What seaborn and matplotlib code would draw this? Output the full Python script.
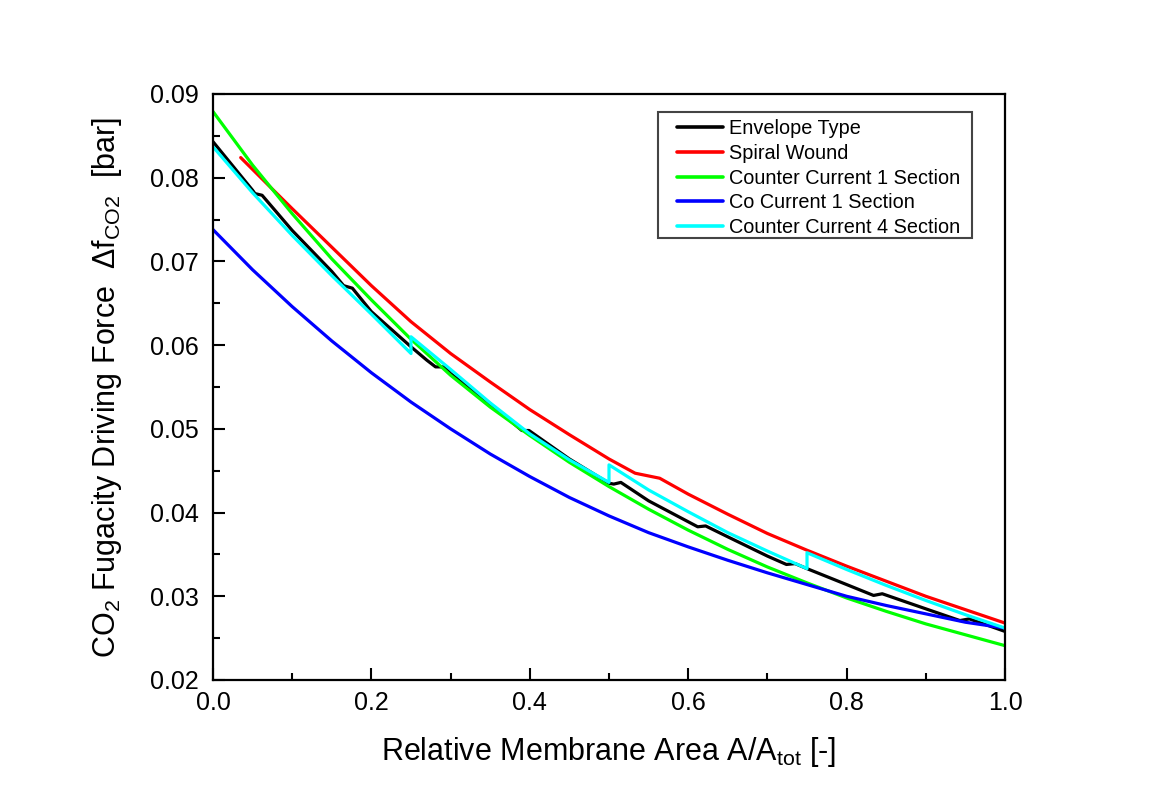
import numpy as np
import pandas as pd
import matplotlib
matplotlib.use("Agg")
import matplotlib.pyplot as plt
from matplotlib.patches import Rectangle
import seaborn as sns

# ---- data ---------------------------------------------------------------
envelope_x = [0.000, 0.050, 0.053, 0.062, 0.100, 0.150, 0.165, 0.176, 0.200,
              0.250, 0.270, 0.281, 0.292, 0.300, 0.350, 0.390, 0.399, 0.450,
              0.500, 0.506, 0.515, 0.550, 0.600, 0.612, 0.622, 0.650, 0.700,
              0.724, 0.735, 0.750, 0.800, 0.834, 0.845, 0.900, 0.943, 0.955,
              1.000]
envelope_y = [0.0843, 0.0785, 0.0781, 0.0779, 0.0737, 0.0688, 0.0671, 0.0668,
              0.0640, 0.0598, 0.0582, 0.0574, 0.0574, 0.0566, 0.0530, 0.0498,
              0.0498, 0.0464, 0.0435, 0.0434, 0.0436, 0.0414, 0.0389, 0.0383,
              0.0384, 0.0371, 0.0348, 0.0338, 0.0339, 0.0333, 0.0314, 0.0301,
              0.0303, 0.0285, 0.0271, 0.0273, 0.0258]

spiral_x = [0.035, 0.070, 0.100, 0.150, 0.200, 0.250, 0.300, 0.350, 0.400,
            0.450, 0.500, 0.533, 0.564, 0.600, 0.650, 0.700, 0.750, 0.800,
            0.850, 0.900, 0.950, 1.000]
spiral_y = [0.0824, 0.0791, 0.0763, 0.0717, 0.0671, 0.0628, 0.0590, 0.0556,
            0.0523, 0.0493, 0.0464, 0.0447, 0.0441, 0.0422, 0.0398, 0.0375,
            0.0355, 0.0336, 0.0318, 0.0300, 0.0284, 0.0268]

counter1_x = [0.00, 0.05, 0.10, 0.15, 0.20, 0.25, 0.30, 0.35, 0.40, 0.45, 0.50,
              0.55, 0.60, 0.65, 0.70, 0.75, 0.80, 0.85, 0.90, 0.95, 1.00]
counter1_y = [0.0879, 0.0815, 0.0757, 0.0703, 0.0654, 0.0607, 0.0564, 0.0526,
              0.0492, 0.0460, 0.0431, 0.0404, 0.0379, 0.0356, 0.0335, 0.0316,
              0.0298, 0.0282, 0.0267, 0.0254, 0.0241]

cocurrent_x = [0.00, 0.05, 0.10, 0.15, 0.20, 0.25, 0.30, 0.35, 0.40, 0.45, 0.50,
               0.55, 0.60, 0.65, 0.70, 0.75, 0.80, 0.85, 0.90, 0.95, 1.00]
cocurrent_y = [0.0738, 0.0690, 0.0646, 0.0605, 0.0567, 0.0532, 0.0500, 0.0470,
               0.0443, 0.0418, 0.0396, 0.0376, 0.0359, 0.0343, 0.0328, 0.0314,
               0.0300, 0.0289, 0.0279, 0.0269, 0.0262]

counter4_x = [0.00, 0.05, 0.10, 0.15, 0.20, 0.25,
              0.25, 0.30, 0.35, 0.40, 0.45, 0.50,
              0.50, 0.55, 0.60, 0.65, 0.70, 0.75,
              0.75, 0.80, 0.85, 0.90, 0.95, 1.00]
counter4_y = [0.0837, 0.0782, 0.0731, 0.0683, 0.0637, 0.0590,
              0.0610, 0.0571, 0.0531, 0.0494, 0.0463, 0.0436,
              0.0457, 0.0427, 0.0401, 0.0376, 0.0354, 0.0333,
              0.0352, 0.0332, 0.0313, 0.0295, 0.0278, 0.0262]

series = [
    ("Envelope Type", envelope_x, envelope_y, "#000000"),
    ("Spiral Wound", spiral_x, spiral_y, "#FF0000"),
    ("Counter Current 1 Section", counter1_x, counter1_y, "#00FF00"),
    ("Co Current 1 Section", cocurrent_x, cocurrent_y, "#0000FF"),
    ("Counter Current 4 Section", counter4_x, counter4_y, "#00FFFF"),
]

x_ticks = [0.0, 0.2, 0.4, 0.6, 0.8, 1.0]
y_ticks = [0.02, 0.03, 0.04, 0.05, 0.06, 0.07, 0.08, 0.09]

# ---- style --------------------------------------------------------------
sns.set_theme(style="white")
plt.rcParams["font.family"] = ["Liberation Sans", "DejaVu Sans"]
plt.rcParams["mathtext.fontset"] = "custom"
plt.rcParams["mathtext.rm"] = "Liberation Sans"
plt.rcParams["mathtext.it"] = "Liberation Sans:italic"
plt.rcParams["mathtext.bf"] = "Liberation Sans:bold"
for key in ("text.color", "axes.labelcolor", "xtick.color", "ytick.color"):
    plt.rcParams[key] = "black"

fig = plt.figure(figsize=(11.6, 8.1), dpi=100)
ax = fig.add_axes([0.1836, 0.1605, 0.6828, 0.7235])

for name, xs, ys, color in series:
    df = pd.DataFrame({"x": xs, "y": ys})
    sns.lineplot(data=df, x="x", y="y", ax=ax, color=color, lw=2.3,
                 estimator=None, sort=False, label=name, legend=False)

ax.set_xlim(0.0, 1.0)
ax.set_ylim(0.02, 0.09)
ax.set_xticks(x_ticks)
ax.set_yticks(y_ticks)
ax.set_xticklabels([f"{v:.1f}" for v in x_ticks])
ax.set_yticklabels([f"{v:.2f}" for v in y_ticks])
ax.set_xticks(np.arange(0.1, 1.0, 0.2), minor=True)
ax.set_yticks(np.arange(0.025, 0.09, 0.01), minor=True)

ax.tick_params(axis="both", which="major", direction="in", length=8.5,
               width=1.5, labelsize=18, colors="black",
               top=False, right=False, bottom=True, left=True)
ax.tick_params(axis="both", which="minor", direction="in", length=5,
               width=1.5, top=False, right=False, bottom=True, left=True)
ax.tick_params(axis="x", which="major", pad=8)
ax.tick_params(axis="y", which="major", pad=10)

for sp in ax.spines.values():
    sp.set_visible(True)
    sp.set_color("black")
    sp.set_linewidth(1.6)

ax.set_xlabel(r"Relative Membrane Area A/A$_{\mathrm{tot}}$ [-]", fontsize=22,
              labelpad=14)
ax.set_ylabel(r"CO$_2$ Fugacity Driving Force  Δf$_{\mathrm{CO2}}$  [bar]",
              fontsize=22, labelpad=19)

# legend entries without their own frame; the box is drawn separately
leg = ax.legend(loc="upper left", bbox_to_anchor=(677 / 1160, 1 - 119 / 810),
                bbox_transform=fig.transFigure,
                fontsize=14.3, frameon=False,
                handlelength=2.3, handletextpad=0.3, labelspacing=0.29,
                borderpad=0.0, borderaxespad=0.0)
for line in leg.get_lines():
    line.set_linewidth(2.6)

fig.patches.append(Rectangle((658 / 1160, 1 - 238 / 810), 314 / 1160, 126 / 810,
                             transform=fig.transFigure, fill=False,
                             edgecolor="#444444", linewidth=1.5, zorder=5))

fig.savefig("out.png", dpi=100, facecolor="white")
